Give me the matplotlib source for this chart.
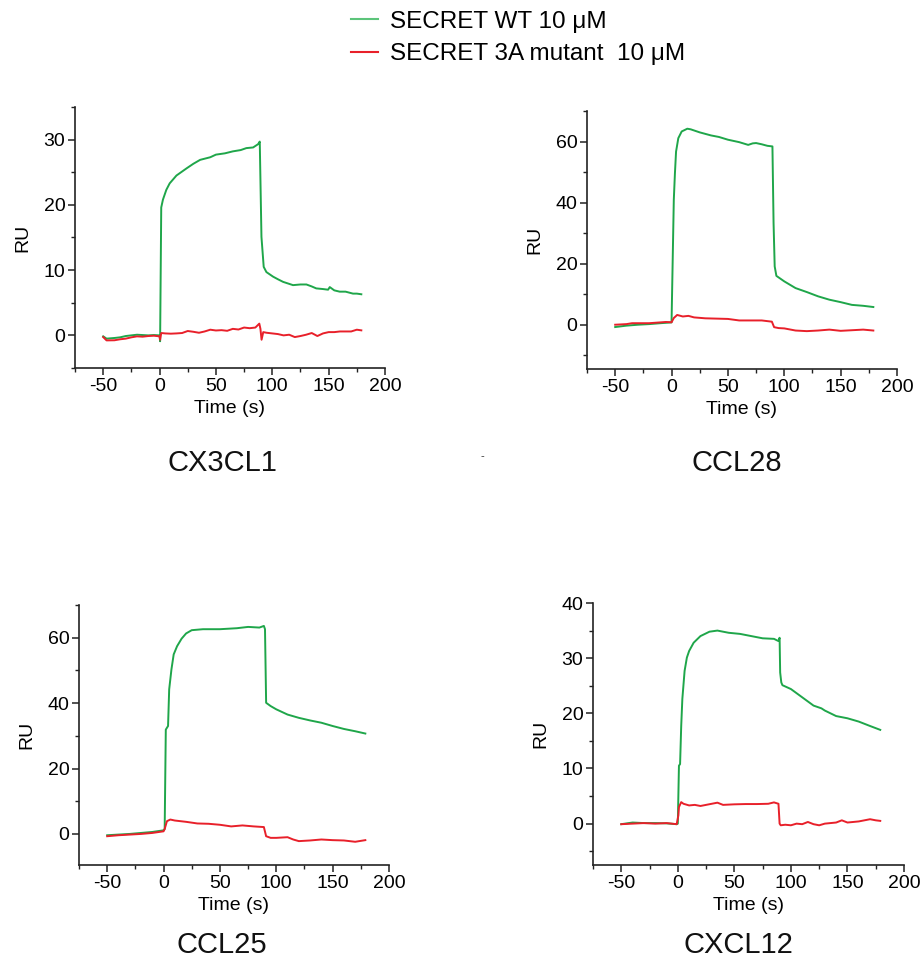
import matplotlib
matplotlib.use("Agg")
import matplotlib.pyplot as plt
from matplotlib.ticker import MultipleLocator
from matplotlib.lines import Line2D

plt.rcParams['font.family'] = ['Liberation Sans', 'DejaVu Sans']
plt.rcParams['axes.unicode_minus'] = False

GREEN = '#1fa64a'
RED = '#e8202a'

# ---------------- data ----------------
titles = ["CX3CL1", "CCL28", "CCL25", "CXCL12"]

# CX3CL1
t1_wt = [-50, -47, -40, -35, -30, -25, -20, -10, -5, 0, 0.5, 1.5, 3, 6, 9, 15, 24, 30, 36, 45, 50, 58, 65, 72, 77, 83, 87.4, 88.9,
         90.4, 92.4, 94.8, 100.7, 105, 109.6, 118.4, 125, 130.3, 135, 139, 145, 149.5, 151, 155, 159.8, 165, 171.6, 175, 179]
y1_wt = [-0.15, -0.5, -0.4, -0.3, -0.1, 0.0, 0.1, 0.0, 0.05, 0.0, -0.9, 19.6, 20.8, 22.3, 23.3, 24.5, 25.6, 26.3, 26.9, 27.3, 27.7, 27.9, 28.2, 28.4, 28.7, 28.8, 29.3, 29.7,
         15.1, 10.5, 9.7, 9.0, 8.6, 8.2, 7.7, 7.8, 7.8, 7.5, 7.2, 7.1, 7.0, 7.4, 6.9, 6.7, 6.7, 6.4, 6.4, 6.3]
t1_mu = [-50, -47, -40, -35, -30, -25, -20, -15, -10, -5, 0, 0.5, 1.5, 5, 10, 15, 20, 25, 30, 35, 40, 45, 50, 55, 60, 65, 70, 75, 80, 85, 88.5, 89.5,
         90.5, 92, 95, 100, 105, 110, 115, 120, 125, 130, 135, 140, 145, 150, 155, 160, 165, 170, 175, 179]
y1_mu = [-0.26, -0.77, -0.75, -0.6, -0.5, -0.3, -0.15, -0.2, -0.1, -0.05, -0.15, -0.67, 0.36, 0.3, 0.26, 0.3, 0.36, 0.67, 0.55, 0.4, 0.6, 0.87, 0.75, 0.8, 0.7, 1.0, 0.9, 1.2, 1.1, 1.2, 1.8, 1.0,
         -0.67, 0.5, 0.4, 0.3, 0.2, 0.0, 0.1, -0.26, -0.1, 0.1, 0.36, -0.1, 0.3, 0.5, 0.5, 0.6, 0.6, 0.6, 0.87, 0.77]

# CCL28
t2_wt = [-50, -40, -30, -20, -10, 0, 2, 3, 4, 6, 9, 14, 17, 25, 35, 42, 50, 60, 68, 72, 75, 80, 85, 89.5,
         90.5, 91.5, 93, 100, 110, 120, 130, 140, 150, 160, 170, 179]
y2_wt = [-0.76, -0.3, 0.0, 0.2, 0.5, 0.76, 40.9, 49.6, 56.7, 61.1, 63.3, 64.2, 64.0, 63.0, 62.0, 61.5, 60.6, 59.8, 58.9, 59.4, 59.5, 59.1, 58.6, 58.4,
         33.3, 19.1, 16.0, 14.2, 12.0, 10.7, 9.3, 8.2, 7.4, 6.5, 6.2, 5.8]
t2_mu = [-50, -40, -35, -20, -5, 0, 2, 5, 10, 15, 20, 30, 40, 50, 60, 70, 80, 89,
         91, 95, 100, 110, 120, 130, 140, 150, 160, 170, 179]
y2_mu = [0.0, 0.2, 0.5, 0.5, 0.9, 0.8, 2.2, 3.2, 2.7, 2.9, 2.4, 2.1, 2.0, 1.9, 1.4, 1.4, 1.4, 1.0,
         -0.8, -1.1, -1.2, -1.9, -2.1, -1.9, -1.6, -2.0, -1.8, -1.6, -1.9]

# CCL25
t3_wt = [-50, -40, -30, -20, -10, 0, 1, 2, 4, 5, 7, 9, 12, 16, 20, 25, 35, 50, 65, 75, 85, 89, 90,
         91, 95, 100, 110, 120, 130, 140, 150, 160, 170, 179]
y3_wt = [-0.4, -0.2, 0.0, 0.3, 0.6, 1.1, 1.5, 31.9, 33.0, 44.2, 50.3, 54.9, 57.4, 59.7, 61.3, 62.3, 62.6, 62.6, 62.9, 63.3, 63.1, 63.6, 62.6,
         40.1, 39.1, 38.1, 36.5, 35.5, 34.7, 34.0, 33.0, 32.1, 31.4, 30.7]
t3_mu = [-50, -40, -30, -20, -10, 0, 1, 3, 6, 10, 20, 30, 40, 50, 60, 70, 80, 89,
         91, 95, 100, 110, 115, 120, 130, 140, 150, 160, 170, 179]
y3_mu = [-0.7, -0.4, -0.2, 0.0, 0.3, 0.8, 1.5, 3.9, 4.4, 4.1, 3.7, 3.2, 3.1, 2.8, 2.3, 2.6, 2.3, 2.1,
         -0.7, -1.2, -1.2, -1.0, -1.7, -2.2, -2.0, -1.7, -1.9, -2.0, -2.4, -1.9]

# CXCL12
t4_wt = [-50, -40, -30, -20, -10, -1, 0, 1, 2, 3, 4, 6, 8, 10, 14, 20, 28, 35, 45, 55, 65, 75, 85, 89, 90,
         90.5, 91.5, 92.5, 100, 110, 120, 127, 130, 140, 150, 160, 170, 179]
y4_wt = [-0.1, 0.2, 0.1, 0.1, 0.05, -0.1, 0.0, 10.5, 10.8, 17.7, 22.6, 27.7, 30.1, 31.3, 32.8, 34.0, 34.8, 35.0, 34.6, 34.4, 34.0, 33.6, 33.5, 33.1, 33.7,
         27.4, 25.6, 25.1, 24.4, 22.9, 21.4, 20.9, 20.5, 19.5, 19.1, 18.5, 17.7, 17.0]
t4_mu = [-50, -40, -30, -20, -10, -1, 0.5, 1, 3, 5, 10, 15, 20, 30, 35, 40, 50, 60, 70, 80, 85, 89,
         90, 91, 95, 100, 105, 110, 115, 120, 125, 130, 140, 145, 150, 160, 170, 175, 179]
y4_mu = [-0.1, 0.0, 0.1, 0.0, 0.1, -0.1, 1.5, 3.0, 3.9, 3.6, 3.3, 3.4, 3.2, 3.6, 3.8, 3.4, 3.5, 3.55, 3.55, 3.6, 3.85, 3.6,
         0.0, -0.3, -0.2, -0.3, 0.0, -0.1, 0.3, -0.1, -0.3, 0.0, 0.2, 0.6, 0.2, 0.4, 0.8, 0.6, 0.5]

series = [(t1_wt, y1_wt, t1_mu, y1_mu), (t2_wt, y2_wt, t2_mu, y2_mu),
          (t3_wt, y3_wt, t3_mu, y3_mu), (t4_wt, y4_wt, t4_mu, y4_mu)]

xticks = [-50, 0, 50, 100, 150, 200]
ylims = [(-5, 35), (-14.5, 70), (-9.5, 70), (-7.5, 40)]
ymajor = [10, 20, 20, 10]
legend_labels = ["SECRET WT 10 \u03bcM", "SECRET 3A mutant  10 \u03bcM"]

# --------------- figure ---------------
W, H = 923, 963
fig = plt.figure(figsize=(W / 100, H / 100), dpi=100)

# axes boxes in pixels: left, right, top, bottom
boxes = [(75, 385, 107, 368), (587, 897, 111, 369), (79, 389, 605, 865), (593, 904, 603, 865)]
title_pos = [(222, 463), (737, 463), (222, 945), (738, 945)]

axc = '#222222'
for i, (l, r, t, b) in enumerate(boxes):
    ax = fig.add_axes([l / W, 1 - b / H, (r - l) / W, (b - t) / H])
    tw, yw, tm, ym = series[i]
    ax.plot(tw, yw, color=GREEN, lw=1.4)
    ax.plot(tm, ym, color=RED, lw=1.4)
    ax.set_xlim(-75, 200)
    ax.set_ylim(*ylims[i])
    ax.set_xticks(xticks)
    ax.xaxis.set_minor_locator(MultipleLocator(25))
    ax.yaxis.set_major_locator(MultipleLocator(ymajor[i]))
    ax.yaxis.set_minor_locator(MultipleLocator(ymajor[i] / 2))
    for s in ['top', 'right']:
        ax.spines[s].set_visible(False)
    for s in ['left', 'bottom']:
        ax.spines[s].set_linewidth(1.2)
        ax.spines[s].set_color(axc)
    ax.tick_params(which='major', direction='out', length=5, width=1.1, labelsize=14, color=axc, pad=2)
    ax.tick_params(which='minor', direction='out', length=3, width=1.0, color=axc)
    ax.set_xlabel("Time (s)", fontsize=14, labelpad=4)
    ax.set_ylabel("RU", fontsize=14, labelpad=9)
    fig.text(title_pos[i][0] / W, 1 - title_pos[i][1] / H, titles[i], fontsize=21,
             ha='center', va='center', color='#111111')

# legend (figure level)
handles = [Line2D([], [], color='#5cc47a', lw=1.5), Line2D([], [], color=RED, lw=1.5)]
fig.legend(handles, legend_labels, loc='center', bbox_to_anchor=(518 / W, 1 - 38 / H),
           frameon=False, fontsize=17.5, handlelength=1.1, handletextpad=0.5, labelspacing=0.45)

fig.text(482 / W, 1 - 456 / H, "-", fontsize=8, ha='center', va='center', color='#333333')

fig.savefig("out.png", dpi=100)
